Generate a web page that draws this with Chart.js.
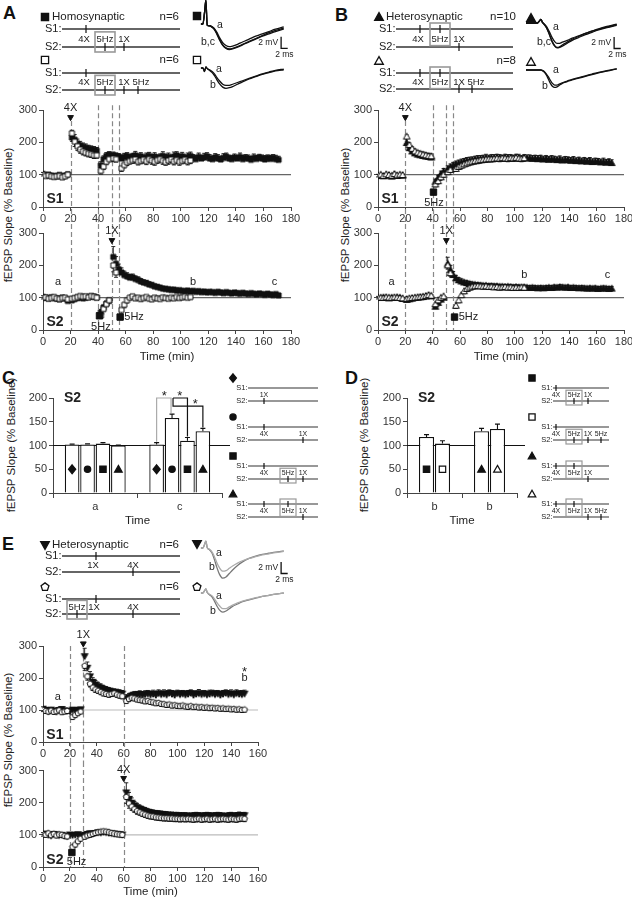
<!DOCTYPE html>
<html>
<head>
<meta charset="utf-8">
<title>fEPSP slope figure</title>
<script src="https://cdn.jsdelivr.net/npm/chart.js"></script>
<style>
  body { margin: 0; background: #fff; }
  #page { position: relative; width: 632px; height: 899px; overflow: hidden; font-family: "Liberation Sans", Arial, sans-serif; color: #222; }
  #page canvas { position: absolute; }
  .panel { position: absolute; font-weight: bold; font-size: 18px; line-height: 18px; color: #111; }
  .ytitle { position: absolute; white-space: nowrap; font-size: 11.5px; transform: translate(-50%, -50%) rotate(-90deg); }
</style>
</head>
<body>
<div id="page">
  <div class="panel" style="left:3px;top:4px">A</div>
  <div class="panel" style="left:335px;top:6px">B</div>
  <div class="panel" style="left:2px;top:369px">C</div>
  <div class="panel" style="left:345px;top:369px">D</div>
  <div class="panel" style="left:2px;top:535px">E</div>
  <div class="ytitle" style="left:8px;top:215px">fEPSP Slope (% Baseline)</div>
  <div class="ytitle" style="left:345px;top:215px">fEPSP Slope (% Baseline)</div>
  <div class="ytitle" style="left:11px;top:445px">fEPSP Slope (% Baseline)</div>
  <div class="ytitle" style="left:364px;top:445px">fEPSP Slope (% Baseline)</div>
  <div class="ytitle" style="left:8px;top:740px">fEPSP Slope (% Baseline)</div>
</div>
<script>
Chart.defaults.font.family = '"Liberation Sans", Arial, sans-serif';
Chart.defaults.color = '#333';
const FONT = '"Liberation Sans", Arial, sans-serif';
const INK = '#222';

// sample times (min)
const tF = [0,2,4,6,8,10,12,14,16,18,21,23,25,27,29,31,33,35,37,39,42,44,46,48,
  51,53,55,57,59,61,63,65,67,69,71,73,75,77,79,81,83,85,87,89,91,93,95,97,99,101,
  103,105,107,109,111,113,115,117,119,121,123,125,127,129,131,133,135,137,139,141,
  143,145,147,149,151,153,155,157,159,161,163,165,167,169,171];
const tO = [0,2,4,6,8,10,12,14,16,18,21,23,25,27,29,31,33,35,37,39,42,44,46,48,51,53,
  57,59,61,63,65,67,69,71,73,75,77,79,81,83,85,87,89,91,93,95,97,99,101,103,105,107];
const tEF = [0,2,4,6,8,10,12,14,16,18,20,22,24,26,28,31,33,35,37,39,41,43,45,47,49,51,53,55,57,59,
  62,64,66,68,70,72,74,76,78,80,82,84,86,88,90,92,94,96,98,100,102,104,106,108,110,
  112,114,116,118,120,122,124,126,128,130,132,134,136,138,140,142,144,146,148,150];
const tEO = [0,2,4,6,8,10,12,14,16,18,22,24,26,28,31,33,35,37,39,41,43,45,47,49,51,53,55,57,59,
  62,64,66,68,70,72,74,76,78,80,82,84,86,88,90,92,94,96,98,100,102,104,106,108,110,
  112,114,116,118,120,122,124,126,128,130,132,134,136,138,140,142,144,146,148,150];

// Panel A, S1
const aS1f = [102,98,100,97,95,96,99,94,97,101, 215,208,196,190,186,183,180,178,176,174, 128,148,158,162,
  160,158,156,150,155,158,152,156,160,154, 157,150,155,158,152,156,150,154,158,152,
  155,150,156,160,153,157,150,154,158,152, 148,155,150,153,157,150,148,154,150,147,
  152,156,150,148,153,150,155,148,152,150, 146,152,149,153,150,147,151,149,152,148, 146];
const aS1fE = [5,5,4,5,5,4,5,5,4,6, 22,16,14,13,12,12,11,11,11,10, 12,10,10,9,
  10,9,9,10,11,10,9,10,12,10, 11,10,12,11,10,12,11,10,13,11, 12,10,14,11,10,12,11,13,12,10,
  11,12,10,13,11,12,10,11,12,10, 13,11,10,12,11,10,12,11,10,11, 10,12,11,10,11,12,10,11,10,12, 11];
const aS1o = [100,96,98,95,93,95,96,92,95,100, 228,202,188,178,172,168,165,163,160,160, 112,125,140,148, 150,148,
  120,130,138,142,145,147,140,143,146,142, 148,144,140,145,148,143,139,144,147,141, 145,140,143,146,141,144];
const aS1oE = [4,5,4,5,4,5,4,5,4,5, 25,15,13,12,11,10,10,10,10,9, 10,9,9,8, 10,9,
  10,9,10,9,10,11,10,9,10,11, 10,12,11,10,9,11,10,12,10,11, 10,11,9,10,11,10];
// Panel A, S2
const aS2f = [102,100,98,101,99,97,95,100,98,90, 92,96,99,101,98,100,102,104,103,101, 55,70,82,90,
  226,205,188,178,170,166,162,163,158,155, 150,147,145,141,139,135,133,131,128,127,
  126,124,125,122,123,121,120,122,119,121, 118,120,117,119,116,118,117,115,118,116,
  114,117,115,113,116,114,112,115,113,111, 114,112,110,113,111,109,112,110,108,111, 107];
const aS2fE = [4,4,3,4,4,3,4,5,4,5, 5,4,4,3,4,4,4,5,4,4, 8,7,6,5,
  32,22,16,14,12,11,10,10,9,9, 9,8,8,8,7,7,7,6,6,6, 6,6,5,5,5,5,5,5,5,5,
  5,6,5,5,6,5,5,6,5,5, 5,5,6,5,5,6,5,5,5,6, 5,5,6,5,5,5,6,5,5,5, 5];
const aS2o = [100,101,97,99,102,98,96,99,100,95, 97,99,102,105,103,104,101,105,103,100, 45,65,80,92, 200,178,
  62,78,92,100,104,98,100,96,99,102, 97,95,100,98,96,101,99,97,100,98, 102,99,101,103,100,102];
const aS2oE = [4,4,4,5,4,4,4,5,4,4, 4,4,5,4,4,4,5,4,4,4, 8,7,6,5, 20,15,
  10,9,8,7,6,6,6,7,6,6, 6,7,6,6,6,7,6,6,7,6, 6,6,7,6,6,6];

// Panel B, S1
const bS1f = [96,98,95,99,97,94,100,96,98,97, 198,182,172,166,162,160,158,156,155,153, 78,90,102,110,
  118,124,128,132,135,138,140,142,144,145, 147,148,149,150,151,150,152,151,153,152,
  150,153,151,152,150,153,151,149,152,150, 151,149,150,148,150,147,149,146,148,147,
  145,147,144,146,145,143,145,142,144,141, 143,140,142,139,141,140,138,140,137,139, 136];
const bS1fE = [5,5,5,5,5,5,5,5,5,5, 25,16,14,13,12,12,12,11,11,11, 8,8,9,9,
  9,9,10,10,10,10,10,11,10,10, 10,11,10,10,12,10,10,11,10,10, 10,10,11,10,10,10,12,10,10,11,
  10,10,10,11,10,10,10,10,11,10, 10,11,10,10,10,10,11,10,10,10, 10,10,11,10,10,10,10,11,10,10, 10];
const bS1o = [98,100,96,101,99,97,102,98,100,99, 218,192,180,172,168,165,162,160,158,157, 70,80,92,100, 108,115,
  118,124,128,132,135,138,140,142,143,145, 146,147,148,148,149,150,149,151,150,149, 151,150,152,150,149,151];
const bS1oE = [5,5,5,5,5,5,5,5,5,5, 25,15,13,12,11,11,10,10,10,10, 8,8,8,8, 8,8,
  8,8,8,8,9,9,9,9,9,9, 9,9,9,9,9,9,9,9,9,9, 9,9,9,9,9,9];
// Panel B, S2
const bS2f = [100,99,101,100,98,100,99,101,100,96, 93,95,97,99,100,101,102,104,106,104, 72,84,94,100,
  205,186,170,160,154,150,147,145,143,141, 140,139,138,137,137,136,136,135,135,134,
  134,133,134,133,132,133,132,131,132,131, 130,131,130,129,130,129,130,131,130,132,
  131,133,132,131,132,130,131,130,129,130, 129,128,129,128,129,127,128,129,128,127, 128];
const bS2fE = [4,4,4,4,4,4,4,4,4,5, 5,5,5,5,5,5,5,5,5,5, 7,6,6,5,
  20,14,11,9,8,8,7,7,7,7, 7,7,7,7,7,7,7,7,7,7, 7,7,7,7,7,7,7,7,7,7,
  7,7,7,7,7,7,7,7,7,7, 7,7,7,7,7,7,7,7,7,7, 7,7,7,7,7,7,7,7,7,7, 7];
const bS2o = [100,100,99,101,100,99,101,100,99,98, 96,98,99,100,101,102,103,105,108,106, 80,92,100,104, 200,176,
  75,92,108,120,127,131,134,135,136,135, 134,135,133,134,132,133,131,132,133,131, 132,130,131,130,132,131];
const bS2oE = [4,4,4,4,4,4,4,4,4,4, 4,4,4,4,4,4,4,4,4,4, 7,6,6,5, 12,10,
  8,8,8,8,7,7,7,7,7,7, 7,7,7,7,7,7,7,7,7,7, 7,7,7,7,7,7];

// Panel E, S1
const eS1f = [104,100,96,101,98,95,100,103,99,97, 96,101,99,100,102,
  268,232,205,188,180,174,170,166,163,160, 158,156,155,153,151,
  135,140,145,148,147,150,146,149,151,148, 150,147,152,149,151,148,153,150,147,152,
  149,151,148,150,153,147,150,152,149,151, 148,150,152,149,151,147,150,153,149,151, 148,152,150,149,151];
const eS1fE = [6,5,5,6,5,6,5,6,5,6, 6,5,6,5,6, 25,18,15,13,12,11,11,10,10,10, 10,10,10,10,10,
  12,11,10,10,11,10,12,11,10,11, 12,10,11,10,12,11,10,11,12,10, 11,10,12,11,10,11,10,12,11,10,
  11,12,10,11,10,12,11,10,11,12, 10,11,10,12,11];
const eS1o = [100,97,95,98,94,96,99,93,95,97, 78,84,90,95,
  238,205,182,170,164,160,156,152,150,148, 150,152,148,145,143,
  128,134,138,136,133,131,130,127,128,125, 124,121,122,119,118,116,117,114,115,113,
  112,114,111,110,112,109,110,108,109,107, 108,106,107,105,106,104,105,103,104,102, 103,101,102,100,101];
const eS1oE = [5,5,5,5,5,5,5,5,5,5, 6,6,6,6, 15,12,10,9,9,8,8,8,8,8, 8,8,8,8,8,
  7,7,8,7,7,7,8,7,7,7, 8,7,7,7,7,8,7,7,7,8, 7,7,7,8,7,7,7,7,8,7, 7,8,7,7,7,7,8,7,7,7, 8,7,7,7,7];
// Panel E, S2
const eS2f = [102,104,100,98,103,101,99,100,97,96, 101,99,100,102,98,
  100,103,105,104,106,108,107,109,108,106, 105,104,103,102,101,
  232,212,200,192,186,182,178,175,172,170, 168,167,166,165,164,163,162,162,161,161,
  160,160,160,159,159,160,161,160,159,160, 161,160,159,160,161,160,159,158,160,161, 159,160,162,160,161];
const eS2fE = [5,5,5,5,5,5,5,5,5,5, 5,5,5,5,5, 6,6,6,6,6,6,6,6,6,6, 6,6,6,6,6,
  30,20,15,12,11,10,10,10,9,9, 9,9,9,9,9,9,9,9,9,9, 9,9,9,9,9,9,9,9,9,9, 9,9,9,9,9,9,9,9,9,9, 9,9,9,9,9];
const eS2o = [101,100,105,99,103,98,101,100,97,95, 62,70,80,88,
  94,98,100,103,106,108,110,111,110,108, 106,104,102,101,100,
  218,198,188,180,174,170,166,163,160,158, 157,155,154,153,152,152,151,151,150,150,
  149,150,149,150,149,148,149,150,148,149, 150,148,149,150,148,149,150,149,148,150, 149,148,150,151,150];
const eS2oE = [5,5,5,5,5,5,5,5,5,5, 8,7,6,6, 6,6,6,6,6,6,6,6,6,6, 6,6,6,6,6,
  20,15,12,10,10,9,9,9,9,9, 9,9,9,9,9,9,9,9,9,9, 9,9,9,9,9,9,9,9,9,9, 9,9,9,9,9,9,9,9,9,9, 9,9,9,9,9];

// Panel C bars (time points a and c)
const cLabels = ['a', 'c'];
const cVals = [[102, 102], [102, 158], [104, 110], [100, 130]];
const cErr = [[1, 4], [1.5, 8], [2, 7], [1, 6]];
const cMarks = [['diamond', true], ['circle', true], ['square', true], ['tri', true]];
// Panel D bars (time point b)
const dLabels = ['b', 'b'];
const dVals = [[118, 130], [104, 135]];
const dErr = [[5, 6], [6, 10]];
const dMarks = [[['square', true], ['tri', true]], [['square', false], ['tri', false]]];

// example fEPSP traces (ms, mV)
const trT = [2.4,3,3.5,3.9,4.3,5,5.8,6.5,7.2,8,9,10,11,12,13.5,15,17,19,21,23,25,27.5];
const trT2 = [0,3.5,4,4.5,5,5.6,6.2,6.8,7.4,8,8.7,9.4,10.2,11,12.5,14,16,18,20,22,24.5,27.5];
const trA1a = [0,0,2,4.1,-0.2,-0.3,-0.5,-0.8,-1.4,-2.3,-3.2,-3.7,-3.9,-3.8,-3.5,-3.1,-2.6,-2.1,-1.7,-1.3,-0.9,-0.5];
const trA1b = [0,0,2,4.1,-0.2,-0.3,-0.5,-0.9,-1.6,-2.6,-3.6,-4.1,-4.3,-4.2,-3.9,-3.5,-3.0,-2.5,-2.0,-1.5,-1.1,-0.7];
const trA1c = [0,0,2,4.1,-0.2,-0.3,-0.6,-1.0,-1.7,-2.7,-3.7,-4.2,-4.4,-4.3,-4.0,-3.6,-3.1,-2.6,-2.1,-1.7,-1.3,-0.9];
const trA2a = [0,0,-0.6,0.2,-0.1,-0.3,-0.6,-1.0,-1.6,-2.2,-2.8,-3.0,-3.0,-2.8,-2.5,-2.2,-1.8,-1.4,-1.0,-0.7,-0.4,-0.2];
const trA2b = [0,0,-0.6,0.2,-0.1,-0.4,-0.8,-1.3,-2.0,-2.7,-3.3,-3.5,-3.4,-3.2,-2.8,-2.4,-1.9,-1.5,-1.1,-0.8,-0.5,-0.3];
const trB1a = [0,0,0.3,0.6,0.1,-0.2,-0.6,-1.2,-1.9,-2.6,-3.2,-3.5,-3.5,-3.3,-3.0,-2.6,-2.2,-1.8,-1.4,-1.1,-0.7,-0.3];
const trB1b = [0,0,0.3,0.6,0.1,-0.3,-0.8,-1.6,-2.5,-3.3,-3.9,-4.2,-4.1,-3.8,-3.3,-2.8,-2.3,-1.8,-1.4,-1.0,-0.6,-0.2];
const trB1c = [0,0,0.3,0.6,0.1,-0.3,-0.8,-1.5,-2.4,-3.3,-4.0,-4.3,-4.2,-4.0,-3.5,-3.0,-2.5,-2.0,-1.6,-1.2,-0.8,-0.4];
const trB2a = [0,0,0,0,-0.1,-0.3,-0.7,-1.2,-1.8,-2.3,-2.6,-2.6,-2.4,-2.2,-1.9,-1.6,-1.3,-1.0,-0.7,-0.4,-0.1,0.2];
const trB2b = [0,0,0,0,-0.1,-0.4,-0.9,-1.6,-2.3,-2.8,-3.0,-2.9,-2.6,-2.3,-2.0,-1.7,-1.4,-1.1,-0.8,-0.5,-0.2,0.2];
const trE1a = [0,0,0.6,1.2,0.1,-0.2,-0.7,-1.5,-2.5,-3.4,-4.0,-3.9,-3.5,-3.1,-2.6,-2.2,-1.8,-1.5,-1.2,-1.0,-0.8,-0.6];
const trE1b = [0,0,0.6,1.2,0.1,-0.3,-0.9,-2.0,-3.3,-4.5,-5.2,-5.0,-4.4,-3.8,-3.0,-2.4,-1.8,-1.4,-1.1,-0.9,-0.7,-0.5];
const trE2a = [0,0,0.4,0.7,0.1,-0.2,-0.5,-1.0,-1.6,-2.2,-2.7,-2.7,-2.4,-2.1,-1.7,-1.4,-1.1,-0.8,-0.6,-0.4,-0.2,0];
const trE2b = [0,0,0.4,0.7,0.1,-0.3,-0.7,-1.4,-2.2,-2.9,-3.3,-3.1,-2.7,-2.3,-1.9,-1.5,-1.2,-0.9,-0.6,-0.4,-0.2,0];

// stimulation protocol sketches: [line, x, label, boxed, label x]
const schemBig = [
  { shape: 'square', filled: true, mx: 45, my: 17, title: 'Homosynaptic', n: 'n=6', nx: 179, x0: 62, x1: 180, s1: 29, s2: 47,
    ticks: [[1, 86, '4X', 0, 84], [2, 105, '5Hz', 1], [2, 124, '1X']] },
  { shape: 'square', filled: false, mx: 45, my: 60, n: 'n=6', nx: 179, x0: 62, x1: 180, s1: 73, s2: 90,
    ticks: [[1, 86, '4X', 0, 84], [2, 105, '5Hz', 1], [2, 124, '1X'], [2, 138, '5Hz', 0, 141]] },
  { shape: 'tri', filled: true, mx: 379, my: 17, title: 'Heterosynaptic', n: 'n=10', nx: 516, x0: 396, x1: 513, s1: 29, s2: 47,
    ticks: [[1, 420, '4X', 0, 418], [1, 440, '5Hz', 1], [2, 459, '1X']] },
  { shape: 'tri', filled: false, mx: 379, my: 61, n: 'n=8', nx: 516, x0: 396, x1: 513, s1: 73, s2: 89,
    ticks: [[1, 420, '4X', 0, 418], [1, 440, '5Hz', 1], [2, 459, '1X'], [2, 472, '5Hz', 0, 476]] },
  { shape: 'tridown', filled: true, mx: 45, my: 545, title: 'Heterosynaptic', n: 'n=6', nx: 179, x0: 62, x1: 180, s1: 556, s2: 572,
    ticks: [[1, 96, '1X', 0, 93], [2, 133, '4X']] },
  { shape: 'pent', filled: false, mx: 45, my: 587, n: 'n=6', nx: 179, x0: 62, x1: 180, s1: 599, s2: 614,
    ticks: [[2, 77, '5Hz', 1], [1, 96, '1X', 0, 94], [2, 133, '4X']] }
];
const schemSmall = [
  { shape: 'diamond', filled: true, mx: 233, my: 378, x0: 248, x1: 318, s1: 388, s2: 401, ticks: [[2, 264, '1X']] },
  { shape: 'circle', filled: true, mx: 233, my: 417, x0: 248, x1: 318, s1: 427, s2: 440, ticks: [[1, 264, '4X'], [2, 303, '1X']] },
  { shape: 'square', filled: true, mx: 233, my: 456, x0: 248, x1: 318, s1: 466, s2: 479, ticks: [[1, 264, '4X'], [2, 288, '5Hz', 1], [2, 303, '1X']] },
  { shape: 'tri', filled: true, mx: 233, my: 494, x0: 248, x1: 318, s1: 504, s2: 517, ticks: [[1, 264, '4X'], [1, 288, '5Hz', 1], [2, 303, '1X']] },
  { shape: 'square', filled: true, mx: 532, my: 378, x0: 553, x1: 609, s1: 388, s2: 401, ticks: [[1, 556, '4X'], [2, 574, '5Hz', 1], [2, 588, '1X']] },
  { shape: 'square', filled: false, mx: 532, my: 417, x0: 553, x1: 609, s1: 427, s2: 440, ticks: [[1, 556, '4X'], [2, 574, '5Hz', 1], [2, 588, '1X'], [2, 601, '5Hz']] },
  { shape: 'tri', filled: true, mx: 532, my: 456, x0: 553, x1: 609, s1: 466, s2: 479, ticks: [[1, 556, '4X'], [1, 574, '5Hz', 1], [2, 588, '1X']] },
  { shape: 'tri', filled: false, mx: 532, my: 494, x0: 553, x1: 609, s1: 504, s2: 517, ticks: [[1, 556, '4X'], [1, 574, '5Hz', 1], [2, 588, '1X'], [2, 601, '5Hz']] }
];
const traceKeys = [['square', true, 197, 16], ['square', false, 197, 60], ['tri', true, 531, 18],
  ['tri', false, 531, 62], ['tridown', true, 197, 544], ['pent', false, 197, 587]];

const page = document.getElementById('page');
function mk(b) {
  const c = document.createElement('canvas');
  c.width = b[2]; c.height = b[3];
  c.style.left = b[0] + 'px'; c.style.top = b[1] + 'px';
  c.style.width = b[2] + 'px'; c.style.height = b[3] + 'px';
  page.appendChild(c);
  return c;
}

function shapePath(ctx, s, x, y, r) {
  ctx.beginPath();
  if (s === 'square') ctx.rect(x - r, y - r, 2 * r, 2 * r);
  else if (s === 'circle') ctx.arc(x, y, r, 0, Math.PI * 2);
  else if (s === 'diamond') { ctx.moveTo(x, y - r * 1.35); ctx.lineTo(x + r * 1.1, y); ctx.lineTo(x, y + r * 1.35); ctx.lineTo(x - r * 1.1, y); }
  else if (s === 'tri') { ctx.moveTo(x, y - r * 1.2); ctx.lineTo(x + r * 1.2, y + r * 0.9); ctx.lineTo(x - r * 1.2, y + r * 0.9); }
  else if (s === 'tridown') { ctx.moveTo(x, y + r * 1.2); ctx.lineTo(x + r * 1.2, y - r * 0.9); ctx.lineTo(x - r * 1.2, y - r * 0.9); }
  else if (s === 'pent') {
    for (let k = 0; k < 5; k++) {
      const a = -Math.PI / 2 + k * 2 * Math.PI / 5;
      ctx[k ? 'lineTo' : 'moveTo'](x + r * 1.15 * Math.cos(a), y + r * 1.15 * Math.sin(a));
    }
  }
  ctx.closePath();
}
function mark(ctx, s, x, y, r, filled, lw) {
  ctx.save();
  shapePath(ctx, s, x, y, r);
  ctx.fillStyle = filled ? '#111' : '#fff';
  ctx.fill();
  ctx.lineWidth = lw || 1.2;
  ctx.strokeStyle = '#111';
  ctx.stroke();
  ctx.restore();
}
function markImg(s, filled, r) {
  const n = Math.ceil(r * 2.8 + 4);
  const c = document.createElement('canvas');
  c.width = n; c.height = n;
  mark(c.getContext('2d'), s, n / 2, n / 2, r, filled, 1);
  return c;
}

const base = { responsive: false, animation: false, devicePixelRatio: 1, events: [],
  plugins: { legend: { display: false }, tooltip: { enabled: false } } };

// time course decorations: 100% line, dashed event lines, error bars, labels
function timeDecor(o) {
  return {
    id: 'decor',
    beforeDatasetsDraw(ch) {
      const { ctx, chartArea: a, scales: { x, y } } = ch;
      ctx.save();
      ctx.strokeStyle = o.hColor; ctx.lineWidth = 1.2;
      const p100 = y.getPixelForValue(100);
      ctx.beginPath(); ctx.moveTo(a.left, p100); ctx.lineTo(a.right, p100); ctx.stroke();
      ctx.setLineDash([5, 3]); ctx.strokeStyle = '#888'; ctx.lineWidth = 1.2;
      o.dashes.forEach(([t, top]) => {
        const px = Math.round(x.getPixelForValue(t)) + 0.5;
        const y0 = o.lower ? 0 : y.getPixelForValue(top);
        const y1 = o.lower ? a.bottom : ch.height;
        ctx.beginPath(); ctx.moveTo(px, y0); ctx.lineTo(px, y1); ctx.stroke();
      });
      ctx.setLineDash([]);
      ctx.strokeStyle = '#111'; ctx.lineWidth = 0.9;
      ch.data.datasets.forEach((ds, i) => {
        ch.getDatasetMeta(i).data.forEach((pt, j) => {
          const e = ds.err[j];
          if (e == null) return;
          const v = ds.data[j].y;
          const ye = y.getPixelForValue(ds.up ? v + e : v - e);
          ctx.beginPath();
          ctx.moveTo(pt.x, pt.y); ctx.lineTo(pt.x, ye);
          ctx.moveTo(pt.x - 2, ye); ctx.lineTo(pt.x + 2, ye);
          ctx.stroke();
        });
      });
      ctx.restore();
    },
    afterDatasetsDraw(ch) {
      const { ctx, scales: { x, y } } = ch;
      ctx.save();
      ctx.textBaseline = 'middle';
      (o.notes || []).forEach(n => {
        ctx.font = (n.b ? 'bold ' : '') + (n.s || 11) + 'px ' + FONT;
        ctx.fillStyle = INK;
        ctx.textAlign = n.al || 'center';
        ctx.fillText(n.t, x.getPixelForValue(n.x), y.getPixelForValue(n.y));
      });
      (o.arrows || []).forEach(([t, v]) => mark(ctx, 'tridown', x.getPixelForValue(t), y.getPixelForValue(v), 2.4, true, 1));
      (o.stims || []).forEach(([t, v]) => mark(ctx, 'square', x.getPixelForValue(t), y.getPixelForValue(v), 3.2, true, 1));
      ctx.restore();
    }
  };
}

function timeChart(o) {
  const [bx, by, bw, bh] = o.box, [px0, py0, px1, py1] = o.plot;
  const datasets = o.series.map(s => ({
    data: s.x.map((t, i) => ({ x: t, y: s.y[i] })),
    err: s.e, up: s.filled,
    pointStyle: markImg(s.shape, s.filled, s.r || 2.5),
    pointRadius: 3, pointHoverRadius: 3
  }));
  return new Chart(mk(o.box), {
    type: 'scatter',
    data: { datasets },
    options: Object.assign({}, base, {
      layout: { padding: { left: 0, top: py0 - by, right: bx + bw - px1, bottom: 0 } },
      scales: {
        x: { type: 'linear', min: 0, max: o.xmax,
          ticks: { stepSize: 20, autoSkip: false, maxRotation: 0, padding: 1, color: '#333', font: { size: 11 } },
          grid: { drawOnChartArea: false, tickLength: 4, color: '#444' },
          border: { color: '#444', width: 1 },
          title: { display: !!o.xTitle, text: o.xTitle || '', color: INK, font: { size: 11.5 }, padding: 0 },
          afterFit: s => { s.height = by + bh - py1; } },
        y: { min: 0, max: 300,
          ticks: { stepSize: 50, padding: 2, color: '#333', font: { size: 11 } },
          grid: { drawOnChartArea: false, tickLength: 4, color: '#444' },
          border: { color: '#444', width: 1 },
          afterFit: s => { s.width = px0 - bx; } }
      }
    }),
    plugins: [timeDecor(o)]
  });
}

function barChart(o) {
  const [bx, by, bw, bh] = o.box, [px0, py0, px1, py1] = o.plot;
  return new Chart(mk(o.box), {
    type: 'bar',
    data: {
      labels: o.labels,
      datasets: o.vals.map((v, i) => ({ data: v, err: o.err[i], marks: o.marks[i],
        backgroundColor: '#fff', borderColor: '#111', borderWidth: 1.3,
        categoryPercentage: o.cp, barPercentage: 0.95 }))
    },
    options: Object.assign({}, base, {
      layout: { padding: { left: 0, top: py0 - by, right: bx + bw - px1, bottom: 0 } },
      scales: {
        x: { ticks: { color: '#333', font: { size: 11 }, padding: 2 },
          grid: { drawOnChartArea: false, offset: true, tickLength: 5, color: '#444' },
          border: { color: '#444', width: 1 },
          title: { display: true, text: 'Time', color: INK, font: { size: 11.5 }, padding: { top: 0, bottom: 2 } },
          afterFit: s => { s.height = by + bh - py1; } },
        y: { min: 0, max: 200,
          ticks: { stepSize: 50, padding: 2, color: '#333', font: { size: 11 } },
          grid: { drawOnChartArea: false, tickLength: 4, color: '#444' },
          border: { color: '#444', width: 1 },
          afterFit: s => { s.width = px0 - bx; } }
      }
    }),
    plugins: [{
      id: 'bdecor',
      beforeDatasetsDraw(ch) {
        const { ctx, chartArea: a, scales: { y } } = ch;
        const p = y.getPixelForValue(100);
        ctx.save(); ctx.strokeStyle = '#111'; ctx.lineWidth = 1.2;
        ctx.beginPath(); ctx.moveTo(a.left, p); ctx.lineTo(a.right + 8, p); ctx.stroke();
        ctx.restore();
      },
      afterDatasetsDraw(ch) {
        const { ctx, chartArea: a, scales: { y } } = ch;
        ctx.save();
        ctx.strokeStyle = '#111'; ctx.lineWidth = 1.1;
        ch.data.datasets.forEach((ds, i) => {
          ch.getDatasetMeta(i).data.forEach((bar, j) => {
            const te = y.getPixelForValue(ds.data[j] + ds.err[j]);
            ctx.beginPath();
            ctx.moveTo(bar.x, y.getPixelForValue(ds.data[j])); ctx.lineTo(bar.x, te);
            ctx.moveTo(bar.x - 2.5, te); ctx.lineTo(bar.x + 2.5, te);
            ctx.stroke();
            const [s, f] = ds.marks[j];
            mark(ctx, s, bar.x, y.getPixelForValue(50), s === 'diamond' ? 3.3 : 3.2, f, 1.2);
          });
        });
        ctx.fillStyle = INK; ctx.font = 'bold 14px ' + FONT; ctx.textAlign = 'left'; ctx.textBaseline = 'middle';
        ctx.fillText('S2', a.left + 11, y.getPixelForValue(199));
        if (o.extra) o.extra(ch);
        ctx.restore();
      }
    }]
  });
}

function traceChart(o) {
  const [bx, by, bw, bh] = o.box, KX = 3.3, KY = 5.8;
  const datasets = o.lines.map(l => ({
    data: l.t.map((t, i) => ({ x: t, y: l.v[i] })),
    showLine: true, borderColor: l.c, borderWidth: 1.3, pointRadius: 0, cubicInterpolationMode: 'monotone'
  }));
  if (o.bar) {
    const [sx, sy] = o.bar;
    datasets.push({ data: [{ x: sx, y: sy }, { x: sx, y: sy - 2 }, { x: sx + 2, y: sy - 2 }],
      showLine: true, borderColor: '#111', borderWidth: 1.3, pointRadius: 0 });
  }
  return new Chart(mk(o.box), {
    type: 'scatter',
    data: { datasets },
    options: Object.assign({}, base, {
      layout: { padding: 0 },
      scales: {
        x: { type: 'linear', display: false, min: (bx - o.x0) / KX, max: (bx + bw - o.x0) / KX },
        y: { display: false, min: (o.base - by - bh) / KY, max: (o.base - by) / KY }
      }
    }),
    plugins: [{
      id: 'tnotes',
      afterDatasetsDraw(ch) {
        const { ctx, scales: { x, y } } = ch;
        ctx.save();
        ctx.fillStyle = INK; ctx.textBaseline = 'middle';
        ctx.font = '10.5px ' + FONT; ctx.textAlign = 'left';
        o.notes.forEach(n => ctx.fillText(n.t, n.x - bx, n.y - by));
        if (o.bar) {
          const [sx, sy] = o.bar;
          ctx.font = '8.5px ' + FONT;
          ctx.textAlign = 'right';
          ctx.fillText('2 mV', x.getPixelForValue(sx) - 3, y.getPixelForValue(sy - 1));
          ctx.textAlign = 'center';
          ctx.fillText('2 ms', x.getPixelForValue(sx + 1), y.getPixelForValue(sy - 2) + 6);
        }
        ctx.restore();
      }
    }]
  });
}

function drawProto(ctx, X, Y, g, big) {
  const fs = big ? 9.5 : 7, th = big ? 4 : 3, bw = big ? 10 : 8;
  ctx.save();
  mark(ctx, g.shape, X(g.mx), Y(g.my), big ? 3.6 : 3.1, g.filled, 1.3);
  ctx.fillStyle = INK; ctx.textBaseline = 'middle';
  if (g.title) { ctx.font = '11.5px ' + FONT; ctx.textAlign = 'left'; ctx.fillText(g.title, X(g.mx + 7), Y(g.my)); }
  if (g.n) { ctx.font = '11.5px ' + FONT; ctx.textAlign = 'right'; ctx.fillText(g.n, X(g.nx), Y(g.my)); }
  ctx.font = (big ? 11 : 7.5) + 'px ' + FONT; ctx.textAlign = 'right';
  [g.s1, g.s2].forEach((ly, k) => {
    ctx.fillText('S' + (k + 1) + ':', X(g.x0 - 0.5), Y(ly));
    ctx.strokeStyle = '#333'; ctx.lineWidth = big ? 1.6 : 1.2;
    ctx.beginPath(); ctx.moveTo(X(g.x0), Y(ly)); ctx.lineTo(X(g.x1), Y(ly)); ctx.stroke();
  });
  const mid = (g.s1 + g.s2) / 2 + 1;
  ctx.font = fs + 'px ' + FONT; ctx.textAlign = 'center';
  g.ticks.forEach(([ln, tx, lab, box, lx]) => {
    const ly = ln === 1 ? g.s1 : g.s2;
    ctx.strokeStyle = '#111'; ctx.lineWidth = 1.2;
    ctx.beginPath(); ctx.moveTo(X(tx), Y(ly - th)); ctx.lineTo(X(tx), Y(ly + th)); ctx.stroke();
    ctx.fillText(lab, X(lx || tx), Y(mid));
    if (box) {
      const top = ln === 1 ? ly - th - 2 : mid - fs * 0.75;
      const bot = ln === 1 ? mid + fs * 0.7 : ly + th + 1;
      ctx.strokeStyle = '#999'; ctx.lineWidth = big ? 1.6 : 1.2;
      ctx.strokeRect(X(tx - bw), Y(top), 2 * bw, bot - top);
    }
  });
  ctx.restore();
}

// overlay for protocol sketches and trace keys
new Chart(mk([0, 0, 632, 899]), {
  type: 'scatter',
  data: { datasets: [] },
  options: Object.assign({}, base, {
    layout: { padding: 0 },
    scales: { x: { display: false, min: 0, max: 632 }, y: { display: false, min: 0, max: 899, reverse: true } }
  }),
  plugins: [{
    id: 'schem',
    afterDraw(ch) {
      const ctx = ch.ctx, X = v => ch.scales.x.getPixelForValue(v), Y = v => ch.scales.y.getPixelForValue(v);
      schemBig.forEach(g => drawProto(ctx, X, Y, g, true));
      schemSmall.forEach(g => drawProto(ctx, X, Y, g, false));
      traceKeys.forEach(([s, f, x, y]) => mark(ctx, s, X(x), Y(y), 3.6, f, 1.3));
    }
  }]
});

// traces
const K = '#111';
traceChart({ box: [190, 0, 112, 58], x0: 193, base: 24, bar: [26.7, -2.2],
  lines: [{ t: trT, v: trA1a, c: K }, { t: trT, v: trA1b, c: K }, { t: trT, v: trA1c, c: K }],
  notes: [{ t: 'a', x: 217, y: 25 }, { t: 'b,c', x: 201, y: 42 }] });
traceChart({ box: [190, 58, 112, 40], x0: 193, base: 68,
  lines: [{ t: trT, v: trA2a, c: K }, { t: trT, v: trA2b, c: K }],
  notes: [{ t: 'a', x: 216, y: 69 }, { t: 'b', x: 210, y: 85 }] });
traceChart({ box: [523, 8, 109, 50], x0: 526, base: 23, bar: [26.7, -2.4],
  lines: [{ t: trT2, v: trB1a, c: K }, { t: trT2, v: trB1b, c: K }, { t: trT2, v: trB1c, c: K }],
  notes: [{ t: 'a', x: 553, y: 27 }, { t: 'b,c', x: 537, y: 42 }] });
traceChart({ box: [523, 60, 109, 38], x0: 526, base: 70,
  lines: [{ t: trT2, v: trB2a, c: K }, { t: trT2, v: trB2b, c: K }],
  notes: [{ t: 'a', x: 553, y: 70 }, { t: 'b', x: 542, y: 86 }] });
traceChart({ box: [190, 536, 112, 50], x0: 193, base: 548, bar: [26.7, -2.4],
  lines: [{ t: trT, v: trE1a, c: '#aaa' }, { t: trT, v: trE1b, c: '#777' }],
  notes: [{ t: 'a', x: 216, y: 553 }, { t: 'b', x: 209, y: 567 }] });
traceChart({ box: [190, 588, 112, 34], x0: 193, base: 593,
  lines: [{ t: trT, v: trE2a, c: '#aaa' }, { t: trT, v: trE2b, c: '#777' }],
  notes: [{ t: 'a', x: 216, y: 596 }, { t: 'b', x: 210, y: 611 }] });

// Panel A
timeChart({ box: [0, 92, 302, 132], plot: [43, 110, 291, 207], xmax: 180, hColor: '#666',
  dashes: [[20, 266], [40, 315], [50, 315], [55, 315]],
  series: [{ x: tO, y: aS1o, e: aS1oE, shape: 'square', filled: false },
           { x: tF, y: aS1f, e: aS1fE, shape: 'square', filled: true }],
  notes: [{ t: 'S1', x: 2.5, y: 23, b: 1, s: 14, al: 'left' }, { t: '4X', x: 20, y: 305 }],
  arrows: [[20, 276]] });
timeChart({ box: [0, 224, 302, 140], plot: [43, 233, 291, 330], xmax: 180, hColor: '#666', lower: true, xTitle: 'Time (min)',
  dashes: [[20], [40], [50], [55]],
  series: [{ x: tO, y: aS2o, e: aS2oE, shape: 'square', filled: false },
           { x: tF, y: aS2f, e: aS2fE, shape: 'square', filled: true }],
  notes: [{ t: 'S2', x: 2.5, y: 23, b: 1, s: 14, al: 'left' }, { t: '1X', x: 50, y: 305 },
          { t: 'a', x: 11, y: 148 }, { t: 'b', x: 109, y: 148 }, { t: 'c', x: 168, y: 148 },
          { t: '5Hz', x: 42, y: 9 }, { t: '5Hz', x: 59, y: 39, al: 'left' }],
  arrows: [[50, 276]], stims: [[41, 44], [56, 40]] });

// Panel B
timeChart({ box: [318, 92, 320, 132], plot: [378, 110, 624, 207], xmax: 180, hColor: '#666',
  dashes: [[20, 266], [40, 315], [50, 315], [55, 315]],
  series: [{ x: tO, y: bS1o, e: bS1oE, shape: 'tri', filled: false, r: 2.8 },
           { x: tF, y: bS1f, e: bS1fE, shape: 'tri', filled: true, r: 2.8 }],
  notes: [{ t: 'S1', x: 2.5, y: 23, b: 1, s: 14, al: 'left' }, { t: '4X', x: 20, y: 305 }, { t: '5Hz', x: 41, y: 12 }],
  arrows: [[20, 276]], stims: [[40.6, 46]] });
timeChart({ box: [318, 224, 320, 140], plot: [378, 233, 624, 330], xmax: 180, hColor: '#666', lower: true, xTitle: 'Time (min)',
  dashes: [[20], [40], [50], [55]],
  series: [{ x: tO, y: bS2o, e: bS2oE, shape: 'tri', filled: false, r: 2.8 },
           { x: tF, y: bS2f, e: bS2fE, shape: 'tri', filled: true, r: 2.8 }],
  notes: [{ t: 'S2', x: 2.5, y: 23, b: 1, s: 14, al: 'left' }, { t: '1X', x: 50, y: 305 },
          { t: 'a', x: 10, y: 148 }, { t: 'b', x: 107, y: 170 }, { t: 'c', x: 168, y: 170 },
          { t: '5Hz', x: 59, y: 39, al: 'left' }],
  arrows: [[50, 276]], stims: [[56, 40]] });

// Panel C
barChart({ box: [20, 385, 212, 145], plot: [53, 398, 222, 493], labels: cLabels, vals: cVals, err: cErr,
  marks: cVals.map((v, i) => v.map(() => cMarks[i])), cp: 0.73,
  extra(ch) {
    const { ctx, scales: { y } } = ch;
    const cx = d => ch.getDatasetMeta(d).data[1].x;
    const ct = d => y.getPixelForValue(cVals[d][1] + cErr[d][1]) - 1;
    const y1 = y.getPixelForValue(200), y2 = y.getPixelForValue(183);
    ctx.lineWidth = 1.2;
    ctx.strokeStyle = '#aaa';
    ctx.beginPath(); ctx.moveTo(cx(0), ct(0)); ctx.lineTo(cx(0), y1); ctx.lineTo(cx(1) - 1, y1); ctx.lineTo(cx(1) - 1, ct(1)); ctx.stroke();
    ctx.strokeStyle = '#111';
    ctx.beginPath(); ctx.moveTo(cx(1) + 1, y1); ctx.lineTo(cx(2), y1); ctx.lineTo(cx(2), ct(2)); ctx.stroke();
    ctx.beginPath(); ctx.moveTo(cx(1) + 1, y1); ctx.lineTo(cx(1) + 1, y2); ctx.lineTo(cx(3), y2); ctx.lineTo(cx(3), ct(3)); ctx.stroke();
    ctx.fillStyle = INK; ctx.font = '13px ' + FONT; ctx.textAlign = 'center'; ctx.textBaseline = 'middle';
    ctx.fillText('*', (cx(0) + cx(1)) / 2, y1 - 2);
    ctx.fillText('*', (cx(1) + cx(2)) / 2, y1 - 2);
    ctx.fillText('*', (cx(2) + cx(3)) / 2, y2 - 2);
  } });

// Panel D
barChart({ box: [375, 385, 152, 145], plot: [407, 398, 517, 493], labels: dLabels, vals: dVals, err: dErr,
  marks: dMarks, cp: 0.58 });

// Panel E
timeChart({ box: [0, 628, 275, 134], plot: [43, 646, 258, 742], xmax: 160, hColor: '#bbb',
  dashes: [[20, 300], [30, 292], [60, 300]],
  series: [{ x: tEO, y: eS1o, e: eS1oE, shape: 'pent', filled: false, r: 2.7 },
           { x: tEF, y: eS1f, e: eS1fE, shape: 'tridown', filled: true, r: 2.8 }],
  notes: [{ t: 'S1', x: 2.5, y: 22, b: 1, s: 14, al: 'left' }, { t: '1X', x: 30, y: 334 },
          { t: 'a', x: 11, y: 142 }, { t: '*', x: 150, y: 218, s: 13 }, { t: 'b', x: 150, y: 200 }],
  arrows: [[30, 306]] });
timeChart({ box: [0, 762, 275, 137], plot: [43, 769, 258, 867], xmax: 160, hColor: '#bbb', lower: true, xTitle: 'Time (min)',
  dashes: [[20], [30], [60]],
  series: [{ x: tEO, y: eS2o, e: eS2oE, shape: 'pent', filled: false, r: 2.7 },
           { x: tEF, y: eS2f, e: eS2fE, shape: 'tridown', filled: true, r: 2.8 }],
  notes: [{ t: 'S2', x: 2.5, y: 22, b: 1, s: 14, al: 'left' }, { t: '4X', x: 60, y: 303 }, { t: '5Hz', x: 25, y: 15 }],
  arrows: [[60, 275]], stims: [[21.5, 45]] });
</script>
</body>
</html>
